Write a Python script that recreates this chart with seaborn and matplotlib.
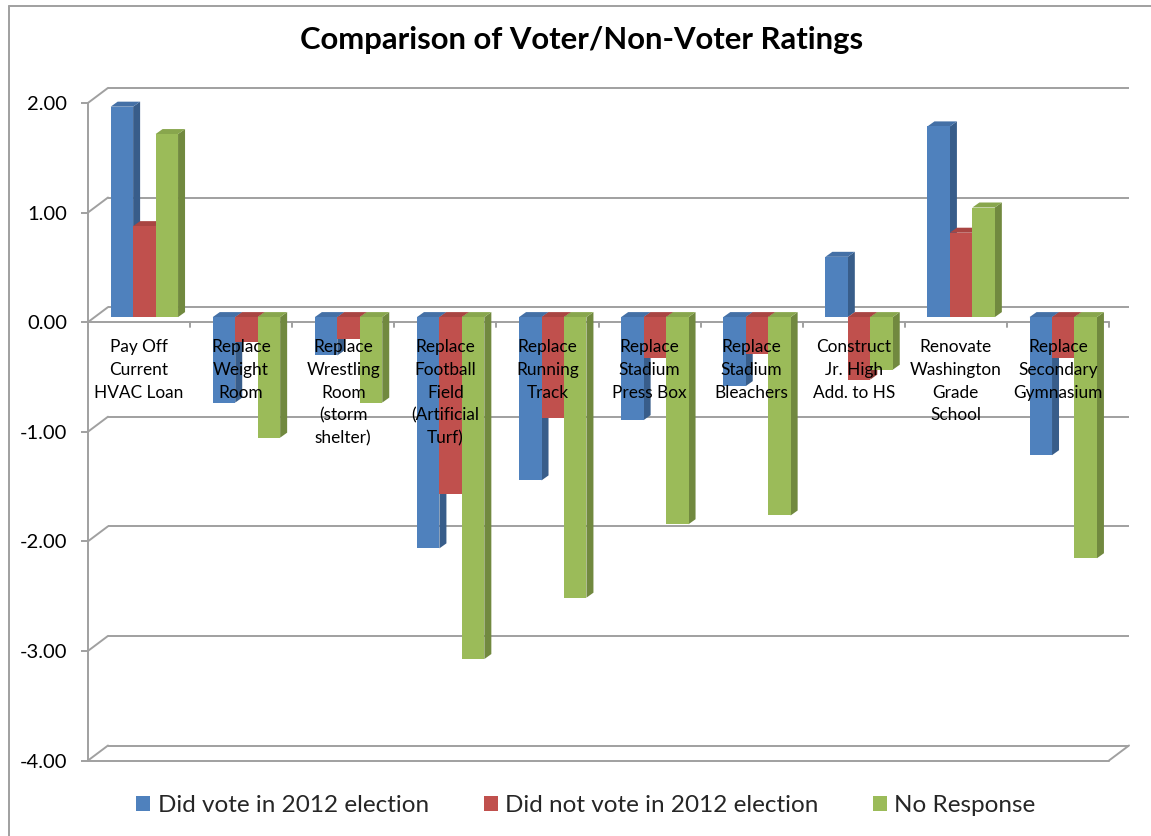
import matplotlib
matplotlib.use("Agg")
import matplotlib.pyplot as plt
import matplotlib.transforms as mtransforms
from matplotlib.patches import Polygon, Rectangle
from matplotlib.lines import Line2D
from matplotlib.colors import to_rgba
import numpy as np
import pandas as pd
import seaborn as sns

# ---- data -----------------------------------------------------------------
categories = [
    "Pay Off\nCurrent\nHVAC Loan",
    "Replace\nWeight\nRoom",
    "Replace\nWrestling\nRoom\n(storm\nshelter)",
    "Replace\nFootball\nField\n(Artificial\nTurf)",
    "Replace\nRunning\nTrack",
    "Replace\nStadium\nPress Box",
    "Replace\nStadium\nBleachers",
    "Construct\nJr. High\nAdd. to HS",
    "Renovate\nWashington\nGrade\nSchool",
    "Replace\nSecondary\nGymnasium",
]
series = ["Did vote in 2012 election", "Did not vote in 2012 election", "No Response"]
did_vote = [1.92, -0.78, -0.35, -2.11, -1.49, -0.94, -0.63, 0.55, 1.74, -1.26]
did_not_vote = [0.83, -0.23, -0.20, -1.61, -0.92, -0.37, -0.34, -0.57, 0.77, -0.37]
no_response = [1.67, -1.10, -0.78, -3.12, -2.56, -1.89, -1.81, -0.48, 1.00, -2.20]
y_ticks = [-4, -3, -2, -1, 0, 1, 2]

# ---- style ----------------------------------------------------------------
front_colors = ["#4F81BD", "#C0504D", "#9BBB59"]
side_colors = ["#385D8A", "#8C3A37", "#71893F"]
top_colors = ["#4470A6", "#A94542", "#88A64D"]
grid_color = "#A0A0A0"

sns.set_theme(style="white")
plt.rcParams["font.family"] = ["Lato", "DejaVu Sans"]

W, H, DPI = 1151, 836, 100
fig = plt.figure(figsize=(W / DPI, H / DPI), dpi=DPI)
fig.patch.set_facecolor("white")

# pixel geometry of the pseudo-3D box
X0 = 88.0          # left edge of the front plane
CW = 102.1         # width of one category
YB = 760.5         # front-plane position of the lowest tick (from top)
UY = 109.6         # pixels per unit value
WALL_DX, WALL_DY = 20.0, 15.0   # back wall offset
BAR_DX, BAR_DY = 5.3, 5.0       # bars sit slightly behind the front plane
DEP_DX, DEP_DY = 7.0, 5.0       # visible bar depth

x_right_px = X0 + 10 * CW + WALL_DX
ax = fig.add_axes([X0 / W, (H - YB) / H, (x_right_px - X0) / W,
                   (6 * UY + WALL_DY) / H])
ax.set_facecolor("none")

df = pd.DataFrame({
    "category": categories * 3,
    "series": np.repeat(series, len(categories)),
    "value": did_vote + did_not_vote + no_response,
})

sns.barplot(data=df, x="category", y="value", hue="series",
            order=categories, hue_order=series, palette=front_colors,
            width=0.66, saturation=1, errorbar=None, legend=False,
            linewidth=0, ax=ax)

wdx, wdy = WALL_DX / CW, WALL_DY / UY
ax.set_xlim(-0.5, 9.5 + wdx)
ax.set_ylim(-4, 2 + wdy)

# back wall gridlines and left wall diagonals
for v in y_ticks:
    ax.plot([-0.5 + wdx, 9.5 + wdx], [v + wdy, v + wdy], color=grid_color,
            lw=1.4, zorder=0.5, clip_on=False, solid_capstyle="butt")
    ax.plot([-0.5, -0.5 + wdx], [v, v + wdy], color=grid_color, lw=1.4,
            zorder=0.5, clip_on=False)
# floor front edge and right diagonal
ax.plot([-0.5, 9.5], [-4, -4], color=grid_color, lw=1.4, zorder=0.6, clip_on=False)
ax.plot([9.5, 9.5 + wdx], [-4, -4 + wdy], color=grid_color, lw=1.4, zorder=0.6,
        clip_on=False)
# front value axis
ax.plot([-0.5, -0.5], [-4, 2], color=grid_color, lw=1.4, zorder=0.6, clip_on=False)
# category axis with tick marks
ax.plot([-0.5, 9.5], [0, 0], color=grid_color, lw=1.4, zorder=0.6, clip_on=False)
for b in np.arange(-0.5, 10.0, 1.0):
    ax.plot([b, b], [0, -5 / UY], color=grid_color, lw=1.4, zorder=0.6, clip_on=False)

# give each bar its side and top faces
shift = mtransforms.ScaledTranslation(BAR_DX / DPI, BAR_DY / DPI, fig.dpi_scale_trans)
ddx, ddy = DEP_DX / CW, DEP_DY / UY
bars = [p for p in ax.patches if isinstance(p, Rectangle)]
rgba_front = [to_rgba(c) for c in front_colors]
for bar in bars:
    fc = bar.get_facecolor()
    k = int(np.argmin([sum((a - b) ** 2 for a, b in zip(fc, c)) for c in rgba_front]))
    x0, w = bar.get_x(), bar.get_width()
    y0, h = bar.get_y(), bar.get_height()
    lo, hi = min(y0, y0 + h), max(y0, y0 + h)
    z = 3 + (x0 + 1) * 0.05
    side = Polygon([(x0 + w, lo), (x0 + w, hi), (x0 + w + ddx, hi + ddy),
                    (x0 + w + ddx, lo + ddy)], closed=True, facecolor=side_colors[k],
                   edgecolor="none", zorder=z)
    top = Polygon([(x0, hi), (x0 + w, hi), (x0 + w + ddx, hi + ddy),
                   (x0 + ddx, hi + ddy)], closed=True, facecolor=top_colors[k],
                  edgecolor="none", zorder=z)
    for poly in (side, top):
        poly.set_transform(ax.transData + shift)
        ax.add_patch(poly)
    bar.set_transform(ax.transData + shift)
    bar.set_zorder(z + 0.001)
    bar.set_linewidth(0)

# category labels in front of the bars
label_shift = mtransforms.ScaledTranslation(0, -17 / DPI, fig.dpi_scale_trans)
for i, lab in enumerate(categories):
    ax.text(i, 0, lab, ha="center", va="top", fontsize=12.4, linespacing=1.52,
            color="black", zorder=10, transform=ax.transData + label_shift)

ax.set_xticks([])
ax.set_xlabel("")
ax.set_ylabel("")
ax.set_yticks(y_ticks)
ax.set_yticklabels([f"{v:.2f}" for v in y_ticks], fontsize=14.5, color="black")
ax.tick_params(axis="y", length=5, width=1.4, color=grid_color, pad=10, left=True)
for s in ax.spines.values():
    s.set_visible(False)

# title and legend
fig.text(582 / W, (H - 40) / H, "Comparison of Voter/Non-Voter Ratings",
         ha="center", va="center", fontsize=22.3, fontweight="bold", color="black")
handles = [Rectangle((0, 0), 1, 1, facecolor=c, edgecolor="none") for c in front_colors]
fig.legend(handles, series, loc="center", bbox_to_anchor=(586 / W, (H - 806) / H),
           ncol=3, frameon=False, fontsize=17.5, handlelength=0.58, handleheight=0.58,
           handletextpad=0.3, columnspacing=2.25)

# chart frame
fig.add_artist(Line2D([9 / W, 9 / W], [0, (H - 6) / H], color=grid_color, lw=1.4))
fig.add_artist(Line2D([9 / W, 1], [(H - 6) / H, (H - 6) / H], color=grid_color, lw=1.4))

fig.savefig("out.png", dpi=DPI, facecolor="white")
